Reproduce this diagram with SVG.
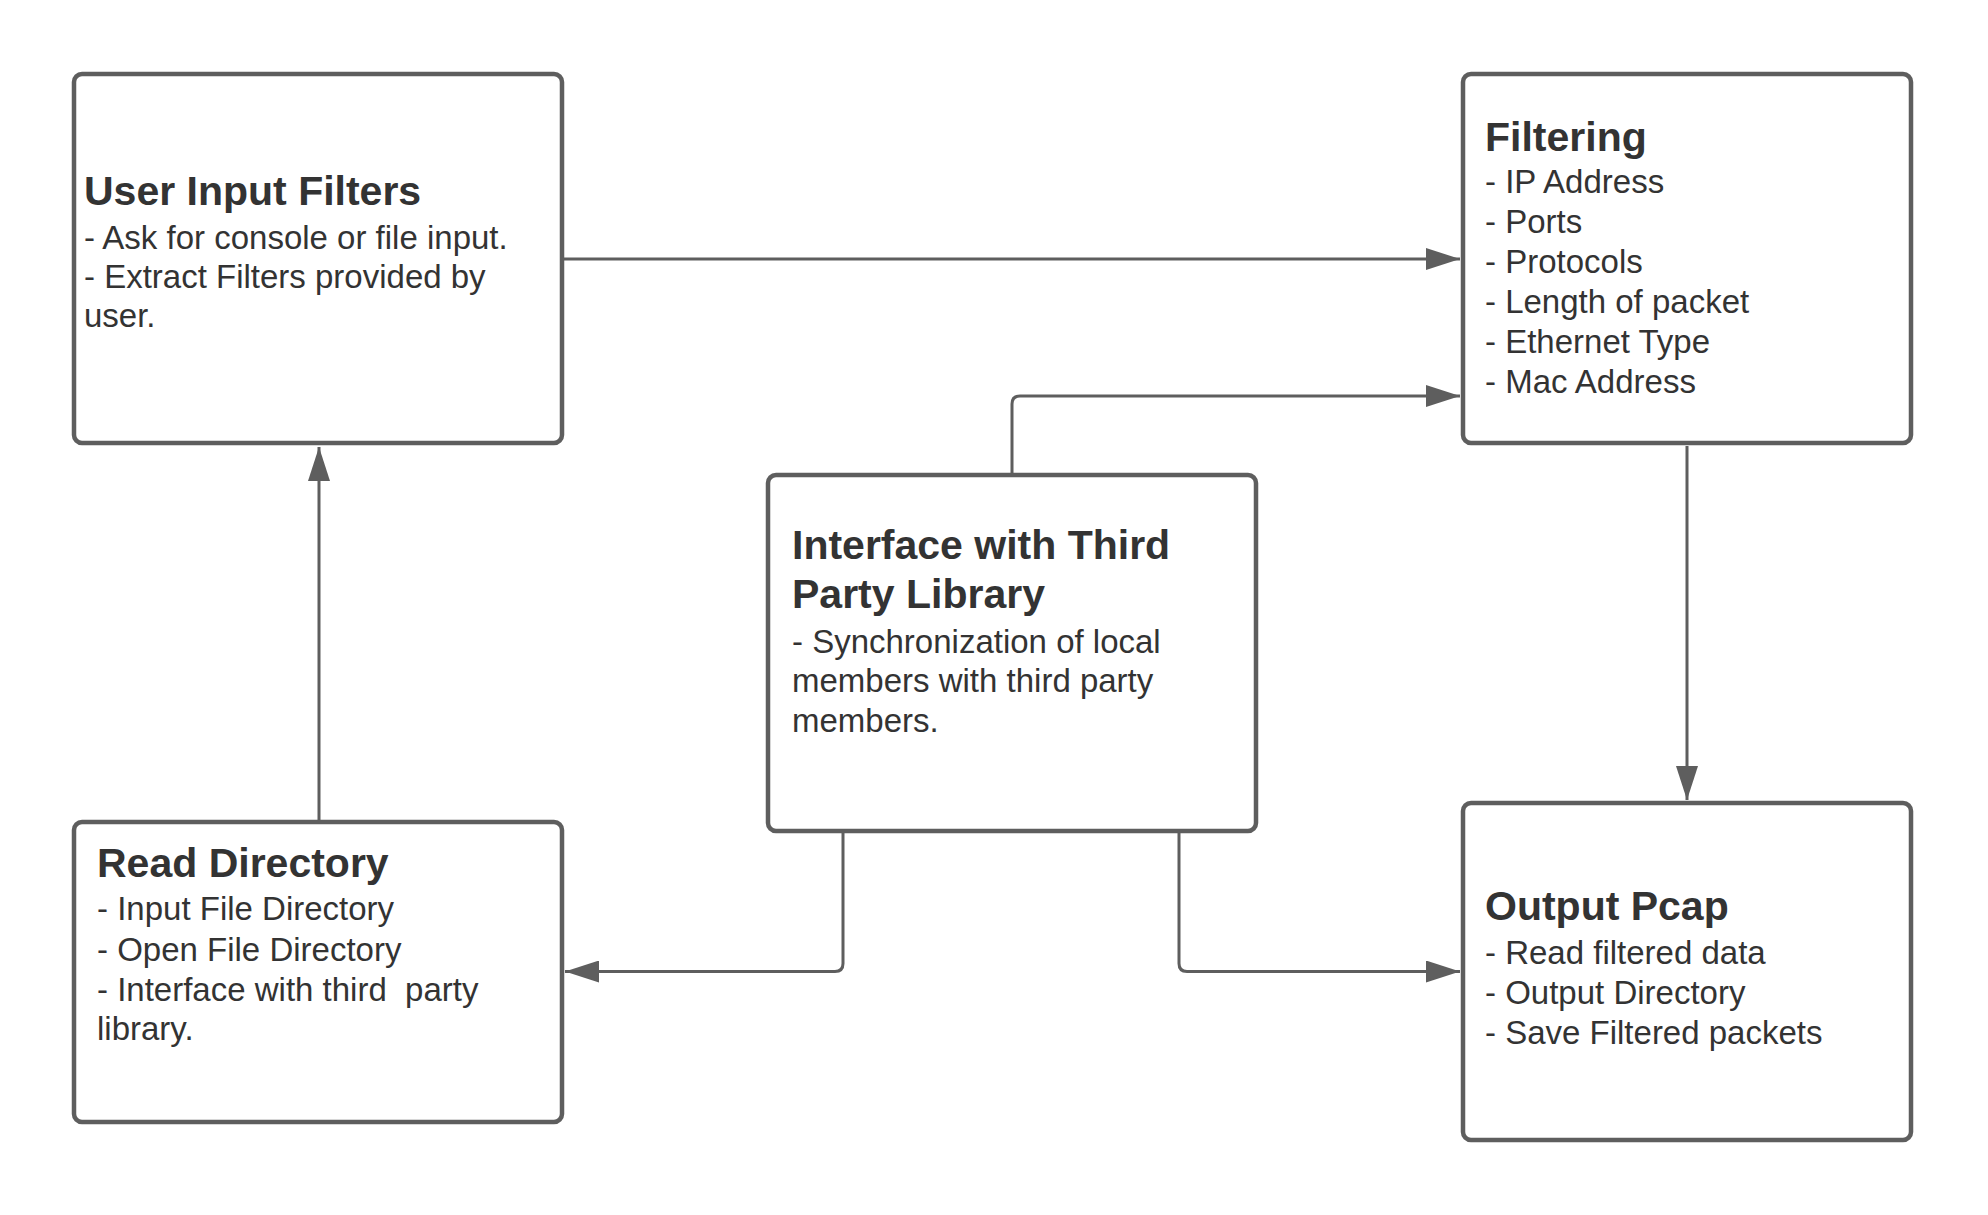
<svg xmlns="http://www.w3.org/2000/svg" width="1988" height="1215" viewBox="0 0 1988 1215">
<defs>
<style>
.box{fill:#ffffff;stroke:#5e5e5e;stroke-width:4.5}
.conn{fill:none;stroke:#5e5e5e;stroke-width:3}
.t{font-family:"Liberation Sans",Arial,sans-serif;font-size:41px;font-weight:bold;fill:#333333}
.b{font-family:"Liberation Sans",Arial,sans-serif;font-size:33px;fill:#333333;white-space:pre}
</style>
<marker id="arr" markerWidth="34" markerHeight="22" refX="34" refY="11" orient="auto" markerUnits="userSpaceOnUse">
<path d="M0,0 L34,11 L0,22 Z" fill="#5e5e5e"/>
</marker>
</defs>
<rect width="1988" height="1215" fill="#ffffff"/>
<g id="connectors">
<path class="conn" d="M562,259 H1460" marker-end="url(#arr)"/>
<path class="conn" d="M1012,473 V404 Q1012,396 1020,396 H1460" marker-end="url(#arr)"/>
<path class="conn" d="M1687,446 V800" marker-end="url(#arr)"/>
<path class="conn" d="M319,820 V447" marker-end="url(#arr)"/>
<path class="conn" d="M843,833 V963.5 Q843,971.5 835,971.5 H565" marker-end="url(#arr)"/>
<path class="conn" d="M1179,833 V963.5 Q1179,971.5 1187,971.5 H1460" marker-end="url(#arr)"/>
</g>
<g id="user-input-filters">
<rect class="box" x="74" y="74" width="488" height="369" rx="8"/>
<text class="t" x="84" y="205">User Input Filters</text>
<text class="b" x="84" y="249">- Ask for console or file input.</text>
<text class="b" x="84" y="288">- Extract Filters provided by</text>
<text class="b" x="84" y="327">user.</text>
</g>
<g id="filtering">
<rect class="box" x="1463" y="74" width="448" height="369" rx="8"/>
<text class="t" x="1485" y="151">Filtering</text>
<text class="b" x="1485" y="193">- IP Address</text>
<text class="b" x="1485" y="233">- Ports</text>
<text class="b" x="1485" y="273">- Protocols</text>
<text class="b" x="1485" y="313">- Length of packet</text>
<text class="b" x="1485" y="353">- Ethernet Type</text>
<text class="b" x="1485" y="393">- Mac Address</text>
</g>
<g id="interface-third-party">
<rect class="box" x="768" y="475" width="488" height="356" rx="8"/>
<text class="t" x="792" y="559">Interface with Third</text>
<text class="t" x="792" y="608">Party Library</text>
<text class="b" x="792" y="653">- Synchronization of local</text>
<text class="b" x="792" y="692">members with third party</text>
<text class="b" x="792" y="732">members.</text>
</g>
<g id="read-directory">
<rect class="box" x="74" y="822" width="488" height="300" rx="8"/>
<text class="t" x="97" y="877">Read Directory</text>
<text class="b" x="97" y="920">- Input File Directory</text>
<text class="b" x="97" y="961">- Open File Directory</text>
<text class="b" x="97" y="1001">- Interface with third  party</text>
<text class="b" x="97" y="1040">library.</text>
</g>
<g id="output-pcap">
<rect class="box" x="1463" y="803" width="448" height="337" rx="8"/>
<text class="t" x="1485" y="920">Output Pcap</text>
<text class="b" x="1485" y="964">- Read filtered data</text>
<text class="b" x="1485" y="1004">- Output Directory</text>
<text class="b" x="1485" y="1044">- Save Filtered packets</text>
</g>
</svg>
